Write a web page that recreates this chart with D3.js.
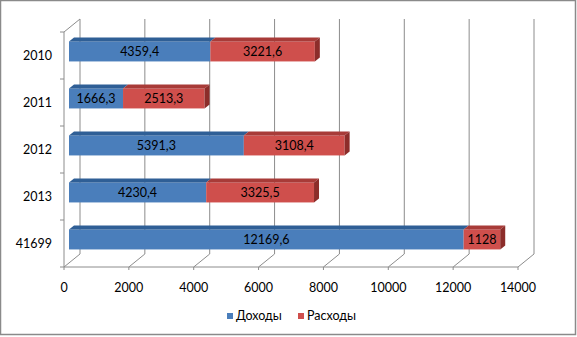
<!DOCTYPE html>
<html><head><meta charset="utf-8">
<script src="https://cdn.jsdelivr.net/npm/d3@7"></script>
<style>body{margin:0;background:#fff}svg{display:block}</style>
</head><body><div id="c"></div>
<script>
const categories = ["2010","2011","2012","2013","41699"];
const income = [4359.4, 1666.3, 5391.3, 4230.4, 12169.6];
const expenses = [3221.6, 2513.3, 3108.4, 3325.5, 1128];
const seriesNames = ["Доходы","Расходы"];
const xTicks = [0,2000,4000,6000,8000,10000,12000,14000];

const W=577,H=337;
const svg=d3.select("#c").append("svg").attr("width",W).attr("height",H);
const font="Lato, 'Open Sans', sans-serif";
svg.append("rect").attr("x",0.5).attr("y",0.5).attr("width",W-2).attr("height",H-3)
  .attr("fill","#fff").attr("stroke","#8a8a8a").attr("stroke-width",1.5);

const x=d3.scaleLinear().domain([0,14000]).range([64,518]);
const y=d3.scaleBand().domain(categories).range([32,267]).padding(0);
const DX=16, DY=-13; // depth offset
const grid="#8c8c8c";
const g=svg.append("g");

// back plane gridlines
xTicks.forEach(t=>{
  g.append("line").attr("x1",x(t)+DX).attr("x2",x(t)+DX).attr("y1",y.range()[0]+DY).attr("y2",y.range()[1]+DY)
   .attr("stroke",grid).attr("stroke-width",1);
  // floor diagonal
  g.append("line").attr("x1",x(t)).attr("y1",y.range()[1]).attr("x2",x(t)+DX).attr("y2",y.range()[1]+DY)
   .attr("stroke",grid);
  g.append("line").attr("x1",x(t)).attr("x2",x(t)).attr("y1",y.range()[1]).attr("y2",y.range()[1]+3).attr("stroke",grid);
});
// left wall
g.append("line").attr("x1",x(0)).attr("x2",x(0)).attr("y1",y.range()[0]).attr("y2",y.range()[1]).attr("stroke",grid);
g.append("line").attr("x1",x(0)).attr("y1",y.range()[0]).attr("x2",x(0)+DX).attr("y2",y.range()[0]+DY).attr("stroke",grid);
// floor front
g.append("line").attr("x1",x(0)).attr("x2",x(14000)).attr("y1",y.range()[1]).attr("y2",y.range()[1]).attr("stroke",grid);
// category ticks
const tickYs=categories.map(c=>y(c)).concat([y.range()[1]]);
tickYs.forEach(ty=>g.append("line").attr("x1",x(0)-4).attr("x2",x(0)).attr("y1",ty).attr("y2",ty).attr("stroke",grid));

// category labels
categories.forEach(c=>{
  g.append("text").attr("x",52).attr("y",y(c)+y.bandwidth()/2+1).attr("text-anchor","end")
   .attr("dominant-baseline","middle").attr("font-family",font).attr("font-size",12.5).attr("fill","#000").text(c);
});
// x labels
xTicks.forEach(t=>{
  g.append("text").attr("x",x(t)).attr("y",292).attr("text-anchor","middle")
   .attr("font-family",font).attr("font-size",12.5).attr("fill","#000").text(t);
});

// bars
const off=5/16; // bar front position within depth
const bx=v=>x(v)+DX*off;
const bdx=5, bdy=-4, bh=20;
const cols=[{front:"#4a7ebb",top:"#2f5f96",side:"#2d5a8c"},{front:"#cf4f4c",top:"#a83b38",side:"#8c2d2a"}];
const fmt=v=>String(v).replace(".",",");
categories.forEach((c,i)=>{
  const yc=y(c)+y.bandwidth()/2 + DY*off;
  const y0=yc-bh/2;
  const segs=[[0,income[i],0],[income[i],income[i]+expenses[i],1]];
  segs.forEach(([a,b,s],k)=>{
    const xa=bx(a), xb=bx(b), col=cols[s];
    g.append("rect").attr("x",xa).attr("y",y0).attr("width",xb-xa).attr("height",bh).attr("fill",col.front);
    g.append("path").attr("d",`M${xa},${y0}L${xa+bdx},${y0+bdy}L${xb+bdx},${y0+bdy}L${xb},${y0}Z`).attr("fill",col.top);
    if(k===segs.length-1){
      g.append("path").attr("d",`M${xb},${y0}L${xb+bdx},${y0+bdy}L${xb+bdx},${y0+bh+bdy}L${xb},${y0+bh}Z`).attr("fill",col.side);
    }
  });
  segs.forEach(([a,b,s])=>{
    g.append("text").attr("x",(bx(a)+bx(b))/2).attr("y",y0+bh/2+1).attr("text-anchor","middle")
     .attr("dominant-baseline","middle").attr("font-family",font).attr("font-size",12.5).attr("fill","#000")
     .text(fmt(s===0?income[i]:expenses[i]));
  });
});

// legend
const lg=svg.append("g");
const legX=[227,298];
seriesNames.forEach((n,i)=>{
  lg.append("rect").attr("x",legX[i]).attr("y",313).attr("width",6).attr("height",6).attr("fill",cols[i].front);
  lg.append("text").attr("x",legX[i]+9).attr("y",320).attr("font-family",font).attr("font-size",12.5).attr("fill","#000").text(n);
});
</script></body></html>
